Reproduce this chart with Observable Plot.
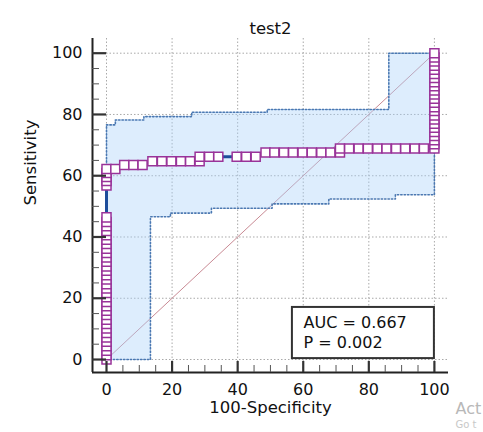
<!DOCTYPE html>
<html>
<head>
<meta charset="utf-8">
<script src="https://cdn.jsdelivr.net/npm/d3@7"></script>
<script src="https://cdn.jsdelivr.net/npm/@observablehq/plot@0.6"></script>
<style>
  html, body { margin: 0; padding: 0; background: #fff; overflow: hidden; }
</style>
</head>
<body>
<div id="chart"></div>
<script>
// ROC points: 100-Specificity (x) and Sensitivity (y)
const rocX = [
  0,0,0,0,0,0,0,0,0,0,0,0,0,0,0,0,0,0,0,0,0,0,0,0,0,0,0,0,0,0,0,0,0,
  0,0,0,0,0,
  2.7,5.4,8.2,11.0,14.0,16.9,19.8,22.7,25.5,28.4,28.4,31.3,34.1,39.7,42.6,45.5,
  48.5,51.2,54.1,56.9,59.8,62.6,65.5,68.3,71.2,71.2,74.0,76.9,79.7,82.6,85.4,88.3,91.1,94.0,96.8,100,
  100,100,100,100,100,100,100,100,100,100,100,100,100,100,100,100,100,100,100,100,100,100,100
];
const rocY = [
  0,1.4,2.9,4.3,5.8,7.2,8.7,10.1,11.6,13.0,14.5,15.9,17.4,18.8,20.3,21.7,23.2,24.6,26.1,27.5,29.0,30.4,31.9,33.3,34.8,36.2,37.7,39.1,40.6,42.0,43.5,44.9,46.4,
  56.8,58.3,59.6,60.9,62.2,
  62.2,63.5,63.5,63.5,64.7,64.7,64.7,64.7,64.7,64.7,66.2,66.2,66.2,66.2,66.2,66.2,
  67.6,67.6,67.6,67.6,67.6,67.6,67.6,67.6,67.6,68.9,68.9,68.9,68.9,68.9,68.9,68.9,68.9,68.9,68.9,68.9,
  70.3,71.6,73.0,74.3,75.7,77.0,78.4,79.7,81.1,82.4,83.8,85.1,86.5,87.8,89.2,90.5,91.9,93.2,94.6,95.9,97.3,98.6,100
];
// 95% confidence bounds (step functions)
const upperX = [0, 0, 2.7, 11.4, 26.0, 49.0, 86.1, 100];
const upperY = [0, 76.6, 78.2, 79.3, 80.7, 81.6, 100, 100];
const lowerX = [0, 13.4, 19.5, 32.0, 50.5, 67.8, 88.1, 100, 100];
const lowerY = [0, 46.6, 47.8, 49.4, 50.8, 52.4, 53.8, 53.8, 100];
const chance = [0, 100];
const majorTicks = [0, 20, 40, 60, 80, 100];
const minorTicks = [5, 10, 15, 25, 30, 35, 45, 50, 55, 65, 70, 75, 85, 90, 95];
const titleText = "test2";
const xLabel = "100-Specificity";
const yLabel = "Sensitivity";
const statLabels = ["AUC = 0.667", "P = 0.002"];
const watermark = ["Act", "Go t"];

const roc = rocX.map((x, i) => ({x, y: rocY[i]}));
const upper = upperX.map((x, i) => ({x, y: upperY[i]}));
const lower = lowerX.map((x, i) => ({x, y: lowerY[i]}));
const stepAt = (pts, x) => { let v = pts[0].y; for (const p of pts) if (p.x <= x) v = p.y; return v; };
const bps = Array.from(new Set([...upperX, ...lowerX])).sort((a, b) => a - b);
const band = bps.map(x => ({x, lo: stepAt(lower, x), hi: stepAt(upper, x)}));

const W = 483, H = 432, mT = 38, mR = 35, mB = 60, mL = 92;
const plotW = W - mL - mR, plotH = H - mT - mB;
const xDom = [-4.27, 104.3], yDom = [-4.24, 104.8];

const chart = Plot.plot({
  width: W, height: H,
  marginTop: mT, marginRight: mR, marginBottom: mB, marginLeft: mL,
  x: {domain: xDom},
  y: {domain: yDom},
  style: {fontFamily: "DejaVu Sans", fontSize: "16px", color: "#111", background: "#fff", overflow: "visible"},
  marks: [
    // grid
    Plot.ruleX(majorTicks, {stroke: "#a9a9a9", strokeWidth: 1, strokeDasharray: "1.5,2"}),
    Plot.ruleY(majorTicks, {stroke: "#a9a9a9", strokeWidth: 1, strokeDasharray: "1.5,2"}),
    // chance line
    Plot.line(chance, {x: d => d, y: d => d, stroke: "#c98a94", strokeWidth: 1}),
    // CI band
    Plot.areaY(band, {x: "x", y1: "lo", y2: "hi", curve: "step-after", fill: "rgb(170,210,250)", fillOpacity: 0.4}),
    Plot.line(lower, {x: "x", y: "y", curve: "step-after", stroke: "#4a78b2", strokeWidth: 1.6, strokeDasharray: "1.4,2"}),
    Plot.line(upper, {x: "x", y: "y", curve: "step-after", stroke: "#4a78b2", strokeWidth: 1.6, strokeDasharray: "1.4,2"}),
    // ROC curve
    Plot.line(roc, {x: "x", y: "y", stroke: "#1d4d9b", strokeWidth: 3}),
    Plot.dot(roc, {x: "x", y: "y", symbol: "square", r: 5.1, stroke: "#993399", strokeWidth: 1.5, fill: "#fff"}),
    // axis lines
    Plot.ruleX([xDom[0]], {stroke: "#222", strokeWidth: 2}),
    Plot.ruleY([yDom[0]], {stroke: "#222", strokeWidth: 2}),
    // inward ticks
    Plot.ruleX(majorTicks, {insetTop: plotH - 11, stroke: "#333", strokeWidth: 2.2}),
    Plot.ruleX(minorTicks, {insetTop: plotH - 7, stroke: "#555", strokeWidth: 1}),
    Plot.ruleY(majorTicks, {insetRight: plotW - 14, stroke: "#333", strokeWidth: 2.2}),
    Plot.ruleY(minorTicks, {insetRight: plotW - 7, stroke: "#555", strokeWidth: 1}),
    // tick labels
    Plot.axisX({ticks: majorTicks, tickSize: 0, tickPadding: 11, label: null, fontSize: 16}),
    Plot.axisY({ticks: majorTicks, tickSize: 0, tickPadding: 10, label: null, fontSize: 16}),
    // titles
    Plot.text([titleText], {frameAnchor: "top", dy: -16, fontSize: 16.5, fill: "#111"}),
    Plot.text([xLabel], {frameAnchor: "bottom", dy: 40, fontSize: 16.5, fill: "#111"}),
    Plot.text([yLabel], {frameAnchor: "left", dx: -62, rotate: -90, fontSize: 16.5, fill: "#111"}),
    // stats box
    Plot.rect([statLabels], {x1: 56.7, x2: 100, y1: 0.3, y2: 17, fill: "#fff", stroke: "#333", strokeWidth: 2}),
    Plot.text(statLabels, {x: 60.1, y: (d, i) => 12.1 - i * 6.6, textAnchor: "start", fontSize: 16, fill: "#111"}),
    // screenshot watermark fragments
    Plot.text([watermark[0]], {frameAnchor: "bottom-right", dx: 7, dy: 41, textAnchor: "start", fontSize: 16, fill: "#b8b8b8"}),
    Plot.text([watermark[1]], {frameAnchor: "bottom-right", dx: 7, dy: 55, textAnchor: "start", fontSize: 10, fill: "#c8c8c8"})
  ]
});
document.getElementById("chart").append(chart);
</script>
</body>
</html>
